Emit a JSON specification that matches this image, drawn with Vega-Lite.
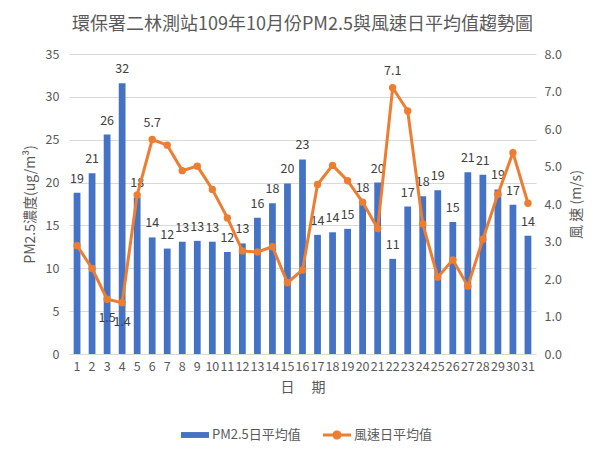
{
  "$schema": "https://vega.github.io/schema/vega-lite/v6.json",
  "autosize": {"type": "none"},
  "width": 467,
  "height": 300,
  "padding": {"left": 69, "top": 54, "right": 77, "bottom": 107},
  "background": "white",
  "title": {
    "text": "環保署二林測站109年10月份PM2.5與風速日平均值趨勢圖",
    "font": "Noto Sans CJK TC",
    "fontSize": 18,
    "fontWeight": "normal",
    "color": "#595959",
    "anchor": "middle",
    "frame": "group",
    "offset": 14
  },
  "config": {
    "view": {"stroke": null},
    "font": "Noto Sans CJK TC",
    "axis": {
      "labelFont": "Noto Sans CJK TC",
      "titleFont": "Noto Sans CJK TC",
      "labelColor": "#595959",
      "titleColor": "#595959",
      "labelFontSize": 12.5,
      "titleFontSize": 14,
      "titleFontWeight": "normal",
      "ticks": false,
      "domain": false,
      "gridColor": "#D9D9D9",
      "gridWidth": 1
    },
    "legend": {
      "labelFont": "Noto Sans CJK TC",
      "labelColor": "#595959",
      "labelFontSize": 13
    }
  },
  "data": {
    "values": [
      {"day": 1, "pm": 18.8, "ws": 2.89},
      {"day": 2, "pm": 21.1, "ws": 2.28},
      {"day": 3, "pm": 25.6, "ws": 1.46},
      {"day": 4, "pm": 31.6, "ws": 1.37},
      {"day": 5, "pm": 18.3, "ws": 4.24},
      {"day": 6, "pm": 13.6, "ws": 5.72},
      {"day": 7, "pm": 12.3, "ws": 5.57},
      {"day": 8, "pm": 13.1, "ws": 4.89},
      {"day": 9, "pm": 13.2, "ws": 5.01},
      {"day": 10, "pm": 13.1, "ws": 4.39},
      {"day": 11, "pm": 11.9, "ws": 3.63},
      {"day": 12, "pm": 12.9, "ws": 2.75},
      {"day": 13, "pm": 15.9, "ws": 2.72},
      {"day": 14, "pm": 17.6, "ws": 2.86},
      {"day": 15, "pm": 19.9, "ws": 1.90},
      {"day": 16, "pm": 22.7, "ws": 2.24},
      {"day": 17, "pm": 13.9, "ws": 4.52},
      {"day": 18, "pm": 14.2, "ws": 5.03},
      {"day": 19, "pm": 14.6, "ws": 4.62},
      {"day": 20, "pm": 17.7, "ws": 4.05},
      {"day": 21, "pm": 20.0, "ws": 3.35},
      {"day": 22, "pm": 11.1, "ws": 7.10},
      {"day": 23, "pm": 17.2, "ws": 6.48},
      {"day": 24, "pm": 18.4, "ws": 3.47},
      {"day": 25, "pm": 19.1, "ws": 2.05},
      {"day": 26, "pm": 15.4, "ws": 2.51},
      {"day": 27, "pm": 21.2, "ws": 1.81},
      {"day": 28, "pm": 20.9, "ws": 3.06},
      {"day": 29, "pm": 19.2, "ws": 4.26},
      {"day": 30, "pm": 17.4, "ws": 5.37},
      {"day": 31, "pm": 13.8, "ws": 4.02}
    ]
  },
  "encoding": {
    "x": {
      "field": "day",
      "type": "ordinal",
      "scale": {"paddingInner": 0.55, "paddingOuter": 0.31},
      "axis": {
        "title": "日　 期",
        "labelAngle": 0,
        "labelPadding": 6,
        "titlePadding": 8,
        "labelOverlap": false,
        "domain": true,
        "domainColor": "#D9D9D9",
        "domainWidth": 1
      }
    }
  },
  "layer": [
    {
      "encoding": {
        "y": {
          "field": "pm",
          "type": "quantitative",
          "scale": {"domain": [0, 35], "nice": false},
          "axis": {
            "title": "PM2.5濃度(ug/m³)",
            "values": [0, 5, 10, 15, 20, 25, 30, 35],
            "labelPadding": 10,
            "titlePadding": 8,
            "labelOverlap": false,
            "grid": true
          }
        }
      },
      "layer": [
        {
          "mark": {"type": "bar", "color": "#4472C4"}
        },
        {
          "mark": {"type": "text", "color": "#404040", "fontSize": 12.5, "baseline": "middle", "dy": -14, "font": "Noto Sans CJK TC"},
          "encoding": {
            "text": {"field": "pm", "type": "quantitative", "format": ".0f"}
          }
        }
      ]
    },
    {
      "encoding": {
        "y": {
          "field": "ws",
          "type": "quantitative",
          "scale": {"domain": [0, 8], "nice": false},
          "axis": {
            "title": "風 速 (m/s)",
            "orient": "right",
            "format": ".1f",
            "values": [0, 1, 2, 3, 4, 5, 6, 7, 8],
            "labelOverlap": false,
            "grid": false,
            "labelPadding": 8,
            "titlePadding": 8,
            "titleAngle": 270,
            "titleBaseline": "top"
          }
        }
      },
      "layer": [
        {
          "mark": {"type": "line", "color": "#ED7D31", "strokeWidth": 3}
        },
        {
          "mark": {"type": "point", "filled": true, "color": "#ED7D31", "opacity": 1, "size": 55}
        },
        {
          "transform": [{"filter": "datum.day == 6 || datum.day == 22"}],
          "mark": {"type": "text", "color": "#404040", "fontSize": 12.5, "baseline": "middle", "dy": -17, "font": "Noto Sans CJK TC"},
          "encoding": {
            "text": {"field": "ws", "type": "quantitative", "format": ".1f"}
          }
        },
        {
          "transform": [{"filter": "datum.day == 3 || datum.day == 4"}],
          "mark": {"type": "text", "color": "#404040", "fontSize": 12.5, "baseline": "middle", "dy": 19, "font": "Noto Sans CJK TC"},
          "encoding": {
            "text": {"field": "ws", "type": "quantitative", "format": ".1f"}
          }
        }
      ]
    },
    {
      "data": {"values": []},
      "mark": {"type": "point", "filled": true, "opacity": 1},
      "encoding": {
        "x": {"field": "series", "type": "nominal", "scale": null, "axis": null},
        "color": {
          "field": "series",
          "type": "nominal",
          "scale": {"domain": ["PM2.5日平均值", "風速日平均值"], "range": ["#4472C4", "#ED7D31"]},
          "legend": {
            "title": null,
            "orient": "none",
            "legendX": 112,
            "legendY": 367,
            "direction": "horizontal",
            "symbolSize": 784,
            "symbolStrokeWidth": 0,
            "symbolOpacity": 1,
            "labelOffset": 3,
            "columnPadding": 22
          }
        },
        "shape": {
          "field": "series",
          "type": "nominal",
          "scale": {
            "domain": ["PM2.5日平均值", "風速日平均值"],
            "range": ["M-1,-0.21H1V0.21H-1Z", "M-1,-0.1H1V0.1H-1Z M0.33,0A0.33,0.33 0 1 1 -0.33,0A0.33,0.33 0 1 1 0.33,0Z"]
          },
          "legend": {"title": null, "orient": "none", "legendX": 112, "legendY": 367}
        }
      }
    }
  ],
  "resolve": {"scale": {"y": "independent"}}
}
